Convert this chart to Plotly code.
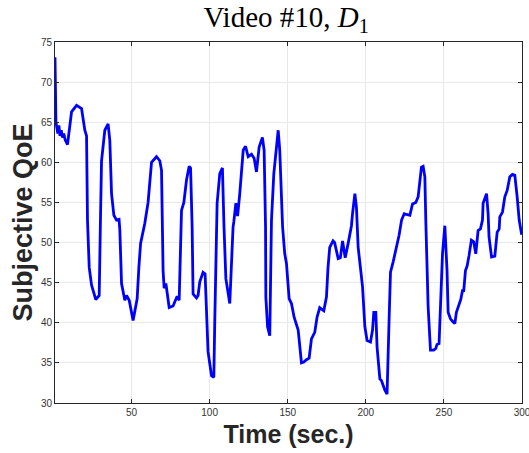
import plotly.graph_objects as go

# Subjective QoE trace over time
time_sec = [
    1, 1.6, 2.8, 3.5, 4.2, 5, 5.8, 6.6, 7.5, 9, 11.6, 14.8, 18, 20.1, 21.2,
    21.8, 22.9, 24.4, 27.1, 29.3, 30.1, 30.8, 32.9, 35, 36.1, 37.2, 38.7, 40.4,
    42, 42.5, 43.6, 45.7, 46.8, 48.5, 51, 53.6, 54.7, 55.8, 58.5, 60.6, 62.8,
    66, 68.1, 69.2, 70.2, 70.9, 72, 74.1, 76.6, 77.8, 79.2, 80.5, 81.4, 82,
    83.5, 85.2, 86.9, 87.8, 88.8, 89.4, 91.6, 92.6, 93.7, 95.8, 97.1, 98, 99,
    101.2, 102.7, 103.3, 104.4, 104.8, 106.5, 108.2, 109.2, 110.4, 112.9, 114,
    115, 115.5, 116.8, 117.9, 119.3, 121.5, 123, 124.7, 126.8, 128.5, 130,
    131.7, 133.8, 134.9, 135.8, 136, 137.1, 138.5, 139.6, 141.1, 143.9, 144.9,
    146.7, 148.1, 149.2, 150.9, 152.4, 154.1, 156.7, 158.8, 160.3, 162, 163.7,
    165.2, 167.3, 168.8, 170.5, 173.1, 174.8, 175.8, 176.9, 179, 180, 182.3,
    183.7, 185.1, 186.8, 188.7, 190.8, 191.5, 193, 194, 194.6, 195.1, 197.9,
    199.4, 200.8, 203, 204.3, 205.1, 206.4, 207.2, 209, 210, 212.2, 213.6,
    214.9, 215.8, 217.5, 219.7, 221.3, 222.9, 224.6, 226.1, 228.2, 229.9, 232,
    233.5, 234.6, 235.6, 236.7, 237.8, 238.4, 239.9, 241.4, 243.5, 244.8,
    245.6, 246.9, 247.8, 249.1, 250.6, 252, 252.7, 254.2, 255.9, 257, 258,
    259.5, 260.8, 261.9, 262.7, 263.8, 264.9, 266.1, 267.6, 269.1, 270.4,
    271.9, 273.4, 274.7, 275.1, 277.3, 278.3, 278.9, 280.5, 282.6, 283.2,
    284.1, 285.4, 285.8, 287.5, 289, 290.5, 292.2, 293.9, 295.4, 296.9, 298.2,
    299.7, 300,
]
qoe = [
    73.1, 65.0, 63.6, 64.6, 63.3, 64.0, 63.1, 63.6, 62.8, 62.2, 66.3, 67.1,
    66.7, 64.0, 63.3, 52.8, 46.9, 44.7, 42.9, 43.4, 52.8, 60.2, 64.0, 64.8,
    62.7, 56.1, 53.4, 52.8, 52.9, 51.6, 44.9, 42.8, 43.4, 42.8, 40.3, 43.0,
    46.9, 49.9, 52.4, 55.0, 60.0, 60.7, 60.2, 59.0, 46.5, 44.3, 44.9, 41.9,
    42.1, 42.6, 43.3, 42.8, 52.4, 54.0, 55.0, 57.8, 59.5, 59.3, 52.0, 43.6,
    43.1, 43.4, 45.1, 46.3, 46.1, 40.3, 36.4, 33.4, 33.2, 40.3, 52.8, 54.9,
    58.6, 59.3, 52.0, 45.5, 42.4, 48.6, 51.9, 52.6, 54.9, 53.3, 56.1, 61.5,
    62.0, 60.7, 61.0, 60.5, 58.8, 61.9, 63.1, 61.5, 52.0, 43.2, 39.5, 38.4,
    52.8, 58.6, 64.0, 61.5, 52.0, 48.6, 47.4, 43.0, 42.4, 40.7, 39.1, 35.0,
    35.1, 35.4, 35.6, 38.0, 38.8, 40.7, 41.9, 41.5, 43.2, 46.9, 49.4, 50.2,
    50.0, 48.0, 48.1, 50.2, 48.1, 49.9, 52.1, 53.6, 56.1, 54.4, 52.0, 49.4,
    44.5, 39.5, 37.8, 37.6, 39.1, 41.3, 41.3, 37.0, 33.0, 32.8, 31.6, 31.1,
    40.3, 46.3, 47.6, 49.4, 50.9, 52.8, 53.6, 53.5, 53.4, 54.8, 55.0, 55.7,
    57.8, 59.4, 59.5, 58.2, 52.8, 42.0, 36.6, 36.6, 36.8, 37.3, 37.4, 43.2,
    48.6, 52.1, 46.5, 41.3, 40.5, 40.1, 39.9, 41.3, 42.2, 42.9, 44.0, 44.0,
    46.5, 47.1, 48.4, 50.3, 50.1, 48.6, 51.5, 51.7, 52.8, 54.9, 56.1, 53.6,
    50.7, 48.2, 48.3, 49.9, 51.3, 51.7, 53.2, 53.8, 55.7, 56.5, 58.2, 58.5,
    58.4, 55.7, 52.8, 51.1, 51.0,
]

x_ticks = [50, 100, 150, 200, 250, 300]
y_ticks = [30, 35, 40, 45, 50, 55, 60, 65, 70, 75]

AXIS_COLOR = "#262626"
GRID_COLOR = "#e8e8e8"

fig = go.Figure(
    go.Scatter(
        x=time_sec,
        y=qoe,
        mode="lines",
        line=dict(color="#0000ff", width=2.8),
        showlegend=False,
    )
)

axis_common = dict(
    showline=True,
    linecolor=AXIS_COLOR,
    linewidth=1,
    mirror="ticks",
    ticks="inside",
    ticklen=4,
    tickwidth=1,
    tickcolor=AXIS_COLOR,
    showgrid=True,
    gridcolor=GRID_COLOR,
    gridwidth=1,
    zeroline=False,
    automargin=False,
    ticklabeloverflow="allow",
    tickfont=dict(family="Liberation Sans, Arial, sans-serif", size=10, color="#333333"),
)

fig.update_xaxes(
    range=[1, 300.0001],
    tickvals=x_ticks,
    ticktext=[str(v) for v in x_ticks],
    title=dict(
        text="<b>Time (sec.)</b>",
        font=dict(family="Liberation Sans, Arial, sans-serif", size=25, color="#262626"),
        standoff=8,
    ),
    **axis_common,
)
fig.update_yaxes(
    range=[30, 75.0001],
    tickvals=y_ticks,
    ticktext=[str(v) for v in y_ticks],
    title=dict(
        text="<b>Subjective QoE</b>",
        font=dict(family="Liberation Sans, Arial, sans-serif", size=27, color="#262626"),
        standoff=0,
    ),
    **axis_common,
)

fig.update_layout(
    width=529,
    height=453,
    margin=dict(l=55, r=7, t=42, b=50, autoexpand=False),
    paper_bgcolor="white",
    plot_bgcolor="white",
    title=dict(
        text="Video #10, <i>D</i><sub>1</sub>",
        font=dict(family="Liberation Serif, Times New Roman, serif", size=29, color="#000000"),
        x=0.495,
        xanchor="center",
        xref="paper",
        y=0.962,
        yanchor="middle",
        yref="container",
    ),
)

fig.write_html("out.html")
